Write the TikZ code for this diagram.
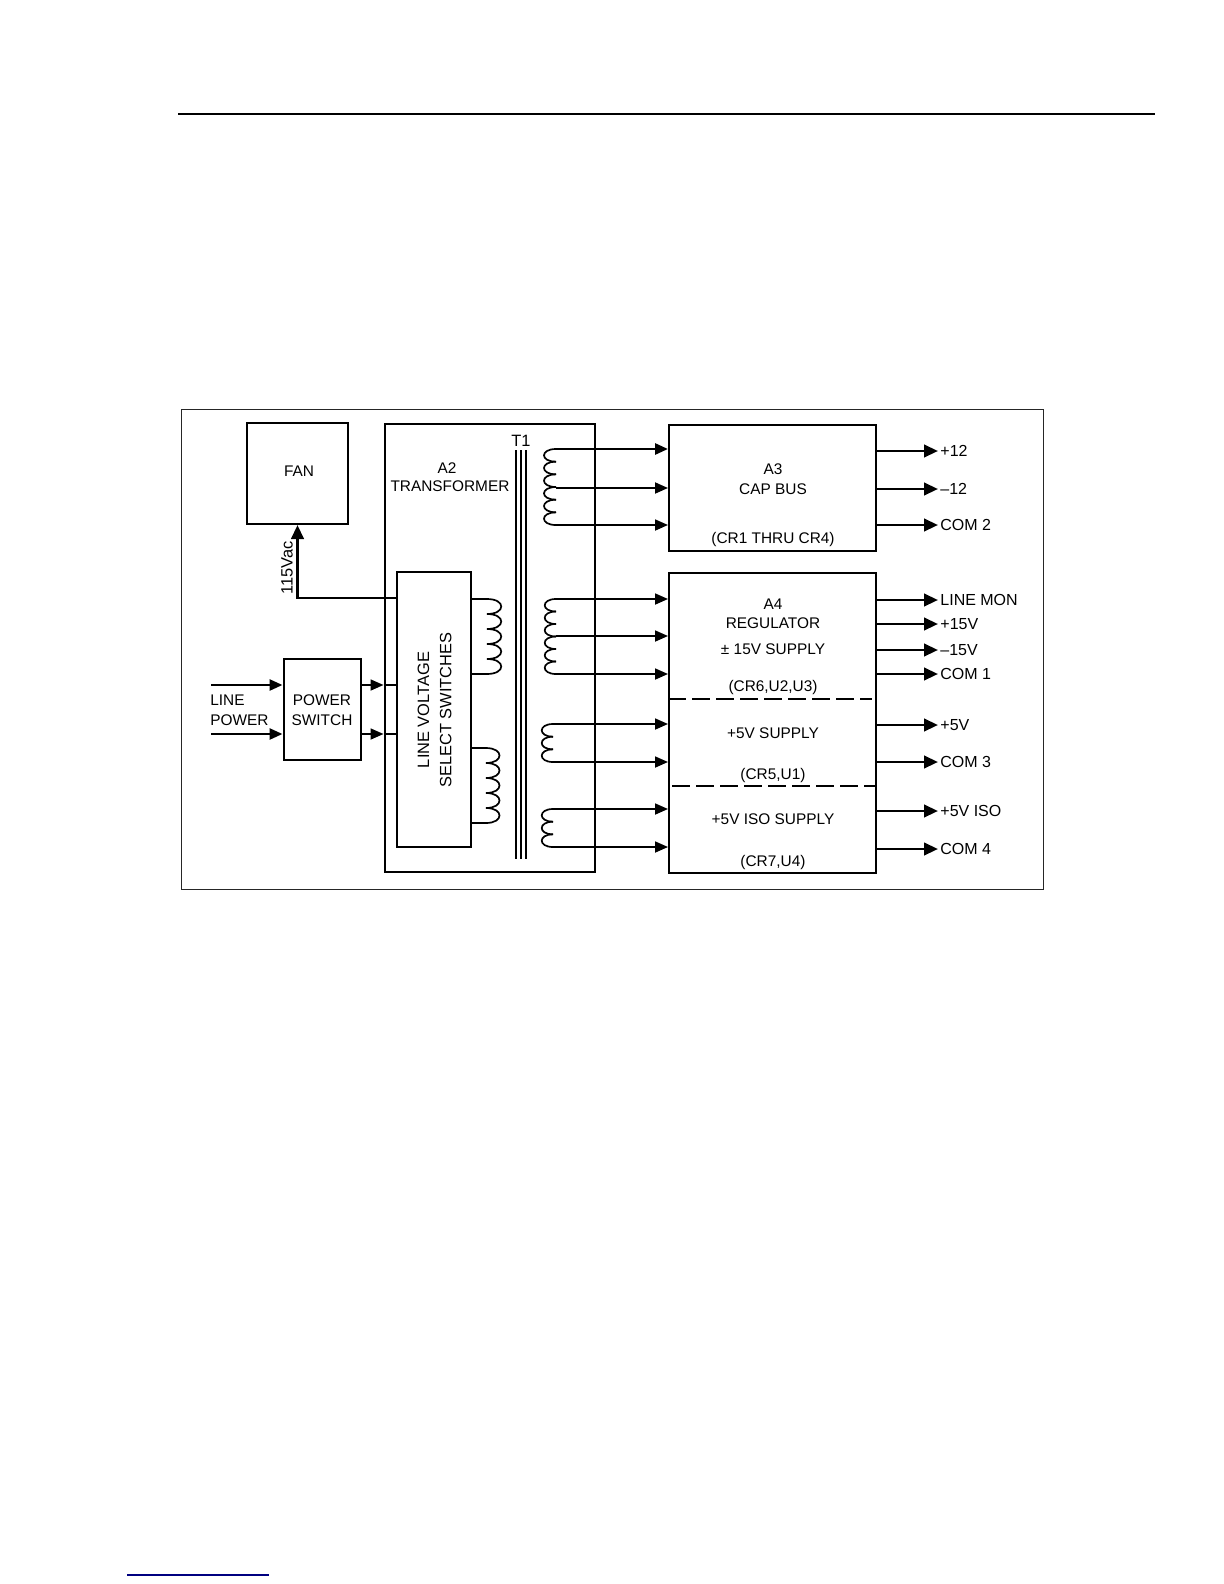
\documentclass[tikz,border=0pt]{standalone}
\usepackage{fontspec}
\setmainfont{Liberation Sans}
\usetikzlibrary{arrows.meta,calc}
\tikzset{
  blockbox/.style={draw=black, line width=1pt, inner sep=0pt},
  blocktext/.style={font=\fontsize{7.7}{9.3}\selectfont, text=black, inner sep=0pt, align=center},
  widetext/.style={font=\fontsize{8.2}{9.6}\selectfont, text=black, inner sep=0pt, align=center},
  outtext/.style={font=\fontsize{8}{9.5}\selectfont, text=black, anchor=west, inner sep=1pt},
  sigin/.style={black, line width=0.9pt, -{Triangle[length=6.5pt,width=5.5pt]}},
  sigout/.style={black, line width=1.4pt, -{Triangle[length=7pt,width=6.2pt]}},
  wire/.style={black, line width=0.9pt},
  coilline/.style={black, line width=0.85pt},
  splitline/.style={black, line width=0.9pt, dash pattern=on 9pt off 3pt}
}
\begin{document}
\begin{tikzpicture}[x=0.5pt,y=-0.5pt]
    \useasboundingbox (0,0) rectangle (1224,1584);
    % page rules and frame
    \draw[black, line width=0.9pt] (178,114) -- (1155,114);
    \draw[blue!50!black, line width=0.6pt] (127,1575) -- (269,1575);
    \node[draw=black!85, line width=0.5pt, inner sep=0pt, minimum width=431pt, minimum height=240pt] (frame) at (612,649) {};
    % blocks
    \node[blockbox, minimum width=50.5pt, minimum height=50.5pt] (fan) at (297.5,473.5) {};
    \node[blockbox, minimum width=105pt, minimum height=224pt] (a2) at (489.5,648) {};
    \node[blockbox, minimum width=37pt, minimum height=137.5pt] (lvss) at (434,709.5) {};
    \node[blockbox, minimum width=38.5pt, minimum height=50.5pt] (pwrsw) at (322,709.5) {};
    \node[blockbox, minimum width=103.5pt, minimum height=63pt] (a3) at (772.5,488) {};
    \node[blockbox, minimum width=103.5pt, minimum height=150pt] (a4) at (772.5,723) {};
    % block labels
    \node[blocktext] (fanname) at (299,471) {FAN};
    \node[blocktext] (pwrname) at (322,710) {POWER\\[0.5pt]SWITCH};
    \node[blocktext] (a2id) at (447,468) {A2};
    \node[blocktext] (a2name) at (450,486) {TRANSFORMER};
    \node[widetext, rotate=90] (lvssname) at (434.5,710) {LINE VOLTAGE\\[1.5pt]SELECT SWITCHES};
    \node[blocktext, anchor=west, align=left] (linepower) at (210,710) {LINE\\[0.5pt]POWER};
    \node[widetext, rotate=90] (vac) at (287,568) {115Vac};
    \node[widetext] (t1) at (521,441) {T1};
    \foreach \name/\y/\txt in {a3id/479/{A3\\[0.5pt]CAP BUS}, a3cr/540/{(CR1 THRU CR4)},
        a4id/604/A4, a4reg/623/REGULATOR, a4pm/649/{± 15V SUPPLY}, a4crb/688/{(CR6,U2,U3)},
        a4five/733/{+5V SUPPLY}, a4crc/776/{(CR5,U1)}, a4iso/819/{+5V ISO SUPPLY}, a4crd/863/{(CR7,U4)}} {
        \node[blocktext] (\name) at (773,\y) {\txt};
    }
    % dashed splits in A4
    \draw[splitline] (a4.west |- 0,699) -- (872,699);
    \draw[splitline] (672,786) -- (a4.east |- 0,786);
    % T1 core
    \foreach \x in {516,521,526} {
        \draw[black, line width=0.9pt] (\x,450) -- (\x,859);
    }
    % windings
    \foreach \xt/\xb/\ytop/\hump/\n in {556/540/449/12.67/6, 556/541/599/12.5/6, 553/538/724/12.67/3, 553/538/809/12.67/3, 487/506/599/15/5, 486/504/748/15/5} {
        \foreach \i in {1,...,\n} {
            \draw[coilline] (\xt,{\ytop+(\i-1)*\hump}) .. controls (\xb,{\ytop+(\i-1)*\hump}) and (\xb,{\ytop+\i*\hump}) .. (\xt,{\ytop+\i*\hump});
        }
    }
    % primary leads
    \foreach \y/\xt in {599/487, 674/487, 748/486, 823/486} {
        \coordinate (lead\y) at (\xt,\y);
        \draw[coilline] (lvss.east |- lead\y) -- (lead\y);
    }
    % secondary leads to A3 and A4
    \coordinate (taptop) at (556,449);
    \draw[sigin, line width=1.4pt] (taptop) -- (a3.west |- taptop);
    \foreach \y/\xt/\blk in {488/556/a3, 525/556/a3, 599/556/a4, 636/556/a4, 674/556/a4, 724/553/a4, 762/553/a4, 809/553/a4, 847/553/a4} {
        \coordinate (tap\y) at (\xt,\y);
        \draw[sigin] (tap\y) -- (\blk.west |- tap\y);
    }
    % outputs
    \foreach \y/\blk/\txt in {451/a3/+12, 489/a3/--12, 525/a3/COM 2, 600/a4/LINE MON, 624/a4/+15V, 650/a4/--15V, 674/a4/COM 1, 725/a4/+5V, 762/a4/COM 3, 811/a4/+5V ISO, 849/a4/COM 4} {
        \node[outtext] (out\y) at (938,\y) {\txt};
        \draw[sigout] (\blk.east |- out\y) -- (out\y.west);
    }
    % line power inputs
    \foreach \y in {685,734} {
        \coordinate (in\y) at (211,\y);
        \coordinate (edge\y) at (a2.west |- in\y);
        \draw[sigin, line width=1.3pt] (in\y) -- (pwrsw.west |- in\y);
        \draw[sigin] (pwrsw.east |- in\y) -- (edge\y);
        \draw[wire] (edge\y) -- (lvss.west |- in\y);
    }
    % fan feed
    \coordinate (fanfeed) at (397,598);
    \draw[sigout] (fanfeed) -- (fan.south |- fanfeed) -- (fan.south);
\end{tikzpicture}
\end{document}
